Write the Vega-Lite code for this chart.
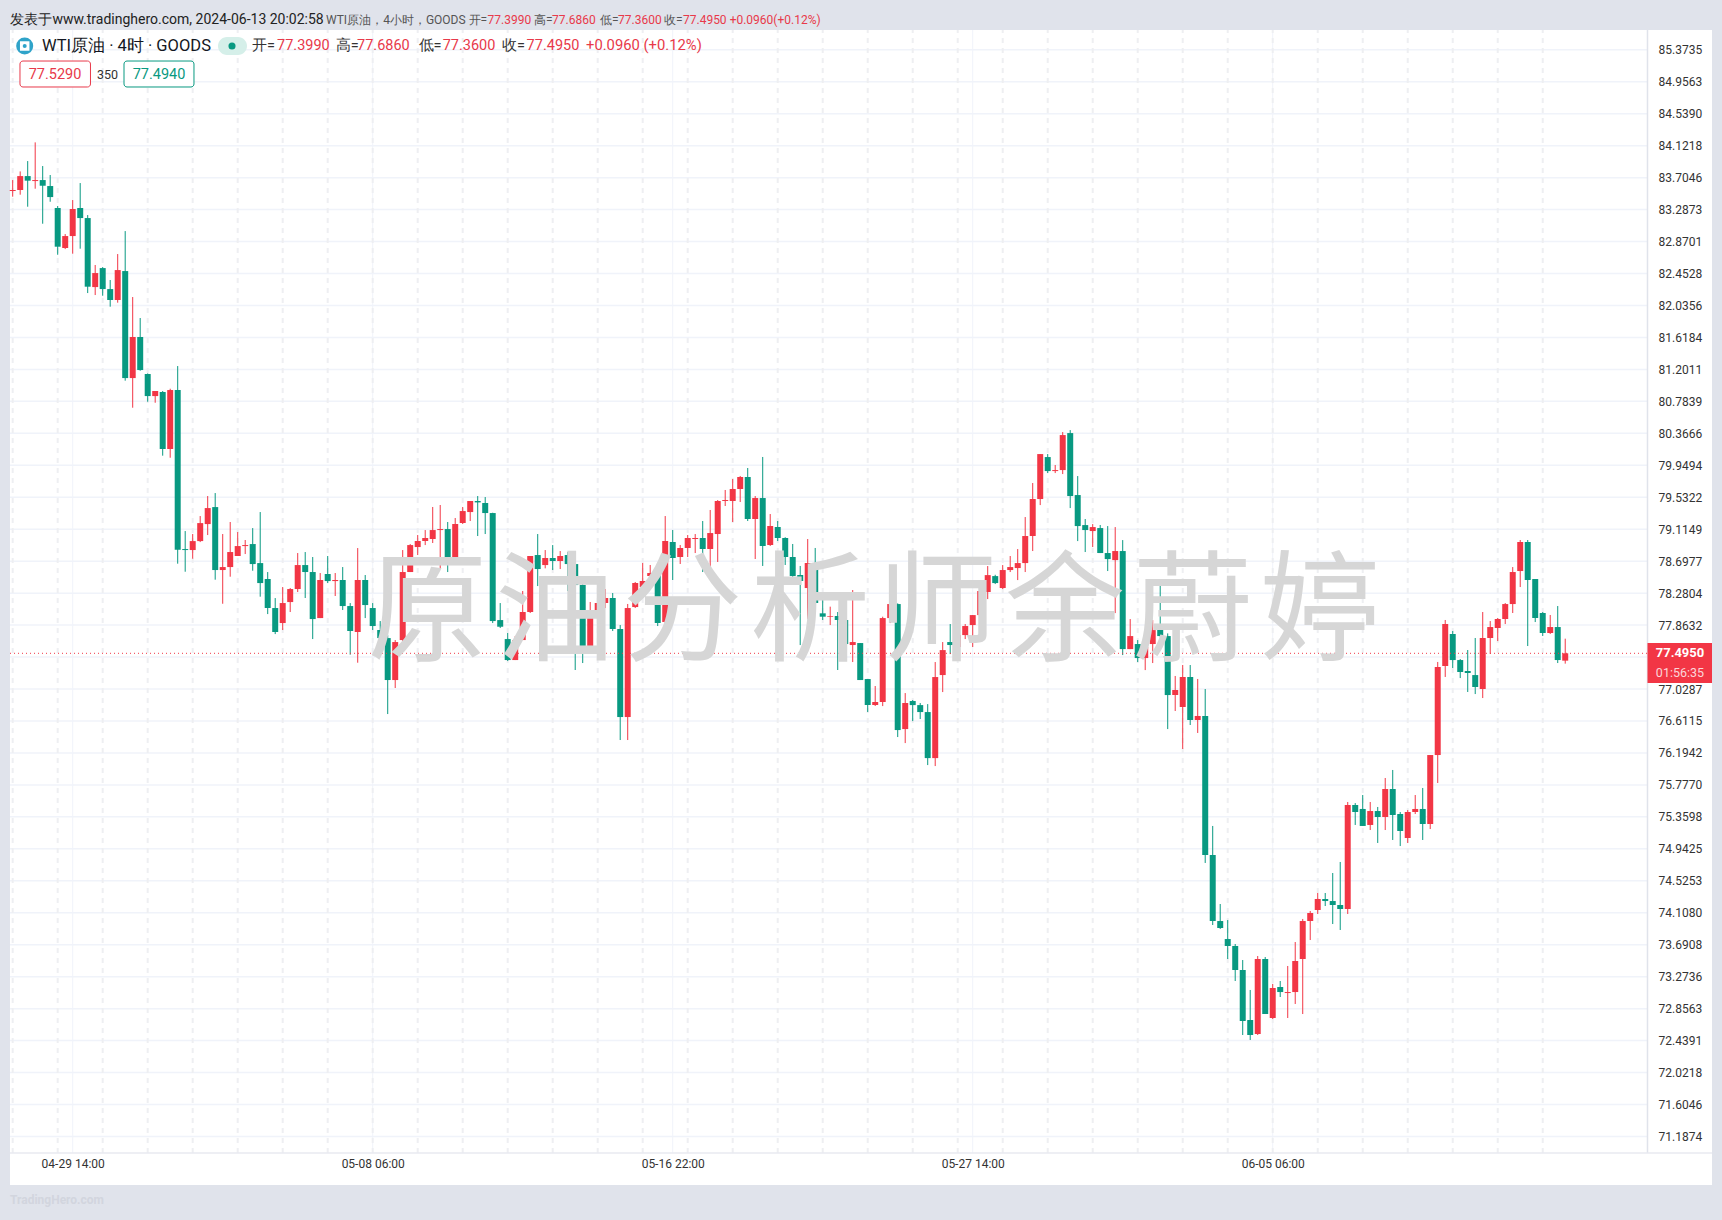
{"$schema":"https://vega.github.io/schema/vega-lite/v6.json","autosize":{"type":"none"},"padding":{"left":10,"top":30,"right":10,"bottom":35},"width":1702,"height":1155,"background":"#e0e3eb","view":{"fill":"#ffffff","stroke":null},"config":{"font":"Roboto"},
"data":{"values":[{"note":"annotation"}]},
"datasets":{"candles":[
{"i":0,"open":83.530,"high":83.673,"low":83.456,"close":83.543},{"i":1,"open":83.543,"high":83.786,"low":83.482,"close":83.725},{"i":2,"open":83.725,"high":83.921,"low":83.325,"close":83.665},{"i":3,"open":83.660,"high":84.165,"low":83.560,"close":83.673},{"i":4,"open":83.673,"high":83.856,"low":83.103,"close":83.599},{"i":5,"open":83.595,"high":83.739,"low":83.390,"close":83.451},{"i":6,"open":83.308,"high":83.334,"low":82.698,"close":82.803},{"i":7,"open":82.786,"high":82.968,"low":82.772,"close":82.942},{"i":8,"open":82.942,"high":83.412,"low":82.712,"close":83.295},{"i":9,"open":83.308,"high":83.634,"low":82.777,"close":83.177},
{"i":10,"open":83.177,"high":83.216,"low":82.198,"close":82.281},{"i":11,"open":82.276,"high":82.564,"low":82.172,"close":82.459},{"i":12,"open":82.524,"high":82.537,"low":82.163,"close":82.250},{"i":13,"open":82.250,"high":82.368,"low":82.020,"close":82.107},{"i":14,"open":82.107,"high":82.707,"low":82.072,"close":82.498},{"i":15,"open":82.485,"high":83.007,"low":81.054,"close":81.088},{"i":16,"open":81.088,"high":82.146,"low":80.701,"close":81.624},{"i":17,"open":81.624,"high":81.872,"low":81.184,"close":81.193},{"i":18,"open":81.141,"high":81.149,"low":80.779,"close":80.853},{"i":19,"open":80.853,"high":80.919,"low":80.766,"close":80.919},
{"i":20,"open":80.906,"high":80.919,"low":80.075,"close":80.162},{"i":21,"open":80.162,"high":80.949,"low":80.048,"close":80.932},{"i":22,"open":80.932,"high":81.245,"low":78.665,"close":78.847},{"i":23,"open":78.856,"high":79.091,"low":78.560,"close":78.843},{"i":24,"open":78.843,"high":79.052,"low":78.730,"close":78.960},{"i":25,"open":78.960,"high":79.287,"low":78.947,"close":79.195},{"i":26,"open":79.182,"high":79.548,"low":79.039,"close":79.391},{"i":27,"open":79.404,"high":79.587,"low":78.456,"close":78.582},{"i":28,"open":78.582,"high":79.052,"low":78.142,"close":78.621},{"i":29,"open":78.621,"high":79.209,"low":78.495,"close":78.817},
{"i":30,"open":78.765,"high":79.078,"low":78.765,"close":78.895},{"i":31,"open":78.895,"high":78.974,"low":78.791,"close":78.908},{"i":32,"open":78.921,"high":79.130,"low":78.573,"close":78.660},{"i":33,"open":78.673,"high":79.339,"low":78.234,"close":78.412},{"i":34,"open":78.464,"high":78.556,"low":78.007,"close":78.086},{"i":35,"open":78.086,"high":78.216,"low":77.746,"close":77.773},{"i":36,"open":77.890,"high":78.360,"low":77.799,"close":78.151},{"i":37,"open":78.164,"high":78.347,"low":78.034,"close":78.334},{"i":38,"open":78.334,"high":78.804,"low":78.295,"close":78.647},{"i":39,"open":78.647,"high":78.817,"low":78.217,"close":78.556},
{"i":40,"open":78.556,"high":78.752,"low":77.681,"close":77.942},{"i":41,"open":77.955,"high":78.543,"low":77.955,"close":78.452},{"i":42,"open":78.530,"high":78.765,"low":78.412,"close":78.438},{"i":43,"open":78.438,"high":78.543,"low":78.243,"close":78.452},{"i":44,"open":78.452,"high":78.621,"low":78.060,"close":78.112},{"i":45,"open":78.112,"high":78.151,"low":77.477,"close":77.786},{"i":46,"open":77.773,"high":78.869,"low":77.372,"close":78.452},{"i":47,"open":78.452,"high":78.517,"low":77.955,"close":78.125},{"i":48,"open":78.086,"high":78.151,"low":77.799,"close":77.851},{"i":49,"open":77.799,"high":77.916,"low":77.668,"close":77.694},
{"i":50,"open":77.694,"high":77.733,"low":76.702,"close":77.146},{"i":51,"open":77.146,"high":77.668,"low":77.042,"close":77.642},{"i":52,"open":77.668,"high":78.843,"low":77.603,"close":78.556},{"i":53,"open":78.556,"high":78.921,"low":78.556,"close":78.908},{"i":54,"open":78.882,"high":79.039,"low":78.778,"close":78.961},{"i":55,"open":78.961,"high":79.104,"low":78.908,"close":79.000},{"i":56,"open":78.987,"high":79.405,"low":78.935,"close":79.104},{"i":57,"open":79.104,"high":79.431,"low":78.595,"close":79.117},{"i":58,"open":79.117,"high":79.209,"low":78.556,"close":78.673},{"i":59,"open":78.687,"high":79.261,"low":78.673,"close":79.183},
{"i":60,"open":79.196,"high":79.405,"low":79.183,"close":79.352},{"i":61,"open":79.339,"high":79.483,"low":79.222,"close":79.483},{"i":62,"open":79.483,"high":79.548,"low":79.026,"close":79.465},{"i":63,"open":79.457,"high":79.535,"low":79.052,"close":79.326},{"i":64,"open":79.326,"high":79.330,"low":77.890,"close":77.916},{"i":65,"open":77.929,"high":78.151,"low":77.825,"close":77.842},{"i":66,"open":77.681,"high":77.760,"low":77.394,"close":77.407},{"i":67,"open":77.407,"high":77.720,"low":77.407,"close":77.668},{"i":68,"open":77.668,"high":78.308,"low":77.668,"close":78.034},{"i":69,"open":78.034,"high":78.765,"low":78.021,"close":78.765},
{"i":70,"open":78.778,"high":79.052,"low":78.373,"close":78.595},{"i":71,"open":78.647,"high":78.843,"low":78.604,"close":78.739},{"i":72,"open":78.739,"high":78.908,"low":78.582,"close":78.700},{"i":73,"open":78.700,"high":78.830,"low":78.595,"close":78.765},{"i":74,"open":78.778,"high":78.817,"low":78.308,"close":78.660},{"i":75,"open":78.660,"high":78.800,"low":77.277,"close":78.386},{"i":76,"open":78.387,"high":78.426,"low":77.368,"close":77.525},{"i":77,"open":77.525,"high":78.165,"low":77.525,"close":78.047},{"i":78,"open":78.034,"high":78.178,"low":77.877,"close":78.152},{"i":79,"open":78.152,"high":78.334,"low":78.086,"close":78.217},
{"i":80,"open":78.217,"high":78.282,"low":77.786,"close":77.812},{"i":81,"open":77.812,"high":77.864,"low":76.363,"close":76.663},{"i":82,"open":76.663,"high":78.139,"low":76.363,"close":78.086},{"i":83,"open":78.099,"high":78.426,"low":78.086,"close":78.413},{"i":84,"open":78.360,"high":78.674,"low":78.360,"close":78.439},{"i":85,"open":78.504,"high":78.648,"low":78.439,"close":78.543},{"i":86,"open":78.556,"high":78.661,"low":77.851,"close":77.891},{"i":87,"open":77.904,"high":79.287,"low":77.747,"close":78.961},{"i":88,"open":78.948,"high":79.105,"low":78.452,"close":78.739},{"i":89,"open":78.752,"high":78.909,"low":78.661,"close":78.870},
{"i":90,"open":78.870,"high":79.039,"low":78.752,"close":79.000},{"i":91,"open":78.987,"high":79.052,"low":78.804,"close":79.000},{"i":92,"open":79.000,"high":79.222,"low":78.556,"close":78.857},{"i":93,"open":78.857,"high":79.366,"low":78.569,"close":79.065},{"i":94,"open":79.052,"high":79.496,"low":78.687,"close":79.483},{"i":95,"open":79.483,"high":79.627,"low":79.418,"close":79.496},{"i":96,"open":79.483,"high":79.770,"low":79.209,"close":79.640},{"i":97,"open":79.640,"high":79.810,"low":79.470,"close":79.797},{"i":98,"open":79.797,"high":79.914,"low":79.222,"close":79.248},{"i":99,"open":79.248,"high":79.548,"low":78.726,"close":79.522},
{"i":100,"open":79.522,"high":80.058,"low":78.635,"close":78.896},{"i":101,"open":78.909,"high":79.313,"low":78.896,"close":79.157},{"i":102,"open":79.144,"high":79.222,"low":78.961,"close":79.000},{"i":103,"open":79.000,"high":79.010,"low":78.648,"close":78.752},{"i":104,"open":78.752,"high":78.922,"low":78.413,"close":78.504},{"i":105,"open":78.517,"high":78.635,"low":77.603,"close":78.439},{"i":106,"open":78.347,"high":78.987,"low":77.943,"close":78.674},{"i":107,"open":78.674,"high":78.870,"low":78.112,"close":78.152},{"i":108,"open":78.017,"high":78.282,"low":77.930,"close":77.973},{"i":109,"open":77.973,"high":78.104,"low":77.864,"close":77.982},
{"i":110,"open":77.982,"high":78.034,"low":77.277,"close":77.930},{"i":111,"open":77.930,"high":78.230,"low":77.394,"close":77.616},{"i":112,"open":77.603,"high":78.321,"low":77.381,"close":77.642},{"i":113,"open":77.629,"high":77.629,"low":77.146,"close":77.146},{"i":114,"open":77.159,"high":77.159,"low":76.729,"close":76.820},{"i":115,"open":76.820,"high":77.068,"low":76.807,"close":76.859},{"i":116,"open":76.859,"high":77.973,"low":76.806,"close":77.955},{"i":117,"open":77.955,"high":78.543,"low":77.890,"close":78.138},{"i":118,"open":78.138,"high":78.147,"low":76.402,"close":76.493},{"i":119,"open":76.506,"high":76.976,"low":76.323,"close":76.846},
{"i":120,"open":76.872,"high":76.885,"low":76.610,"close":76.819},{"i":121,"open":76.819,"high":76.846,"low":76.637,"close":76.728},{"i":122,"open":76.728,"high":76.832,"low":76.036,"close":76.127},{"i":123,"open":76.127,"high":77.381,"low":76.023,"close":77.185},{"i":124,"open":77.211,"high":77.642,"low":76.989,"close":77.537},{"i":125,"open":77.642,"high":77.877,"low":77.485,"close":77.603},{"i":126,"open":77.577,"high":77.733,"low":77.577,"close":77.733},{"i":127,"open":77.733,"high":77.877,"low":77.681,"close":77.851},{"i":128,"open":77.864,"high":77.994,"low":77.577,"close":77.994},{"i":129,"open":77.994,"high":78.386,"low":77.955,"close":78.308},
{"i":130,"open":78.295,"high":78.634,"low":78.203,"close":78.516},{"i":131,"open":78.503,"high":78.520,"low":78.399,"close":78.412},{"i":132,"open":78.347,"high":78.647,"low":78.334,"close":78.582},{"i":133,"open":78.582,"high":78.765,"low":78.556,"close":78.621},{"i":134,"open":78.608,"high":78.856,"low":78.451,"close":78.673},{"i":135,"open":78.673,"high":79.274,"low":78.556,"close":79.026},{"i":136,"open":79.026,"high":79.718,"low":78.830,"close":79.509},{"i":137,"open":79.509,"high":80.096,"low":79.430,"close":80.096},{"i":138,"open":80.057,"high":80.096,"low":79.848,"close":79.874},{"i":139,"open":79.874,"high":79.953,"low":79.848,"close":79.887},
{"i":140,"open":79.887,"high":80.383,"low":79.835,"close":80.344},{"i":141,"open":80.370,"high":80.409,"low":79.391,"close":79.548},{"i":142,"open":79.561,"high":79.809,"low":78.960,"close":79.156},{"i":143,"open":79.169,"high":79.248,"low":78.817,"close":79.104},{"i":144,"open":79.091,"high":79.182,"low":78.882,"close":79.143},{"i":145,"open":79.130,"high":79.170,"low":78.804,"close":78.804},{"i":146,"open":78.804,"high":79.156,"low":78.569,"close":78.725},{"i":147,"open":78.712,"high":79.143,"low":78.020,"close":78.830},{"i":148,"open":78.830,"high":78.973,"low":77.472,"close":77.550},{"i":149,"open":77.550,"high":77.942,"low":77.550,"close":77.720},
{"i":150,"open":77.616,"high":77.668,"low":77.381,"close":77.433},{"i":151,"open":77.433,"high":77.603,"low":77.276,"close":77.577},{"i":152,"open":77.616,"high":77.929,"low":77.368,"close":77.798},{"i":153,"open":77.812,"high":78.438,"low":77.711,"close":77.720},{"i":154,"open":77.720,"high":77.755,"low":76.506,"close":76.950},{"i":155,"open":76.951,"high":77.199,"low":76.742,"close":77.016},{"i":156,"open":76.794,"high":77.342,"low":76.246,"close":77.186},{"i":157,"open":77.186,"high":77.342,"low":76.559,"close":76.624},{"i":158,"open":76.624,"high":77.160,"low":76.455,"close":76.677},{"i":159,"open":76.677,"high":77.029,"low":74.758,"close":74.862},
{"i":160,"open":74.862,"high":75.241,"low":73.948,"close":74.000},{"i":161,"open":74.000,"high":74.222,"low":73.896,"close":73.909},{"i":162,"open":73.765,"high":74.013,"low":73.504,"close":73.674},{"i":163,"open":73.674,"high":73.700,"low":73.217,"close":73.361},{"i":164,"open":73.361,"high":73.491,"low":72.512,"close":72.695},{"i":165,"open":72.708,"high":73.100,"low":72.447,"close":72.512},{"i":166,"open":72.525,"high":73.543,"low":72.512,"close":73.504},{"i":167,"open":73.504,"high":73.530,"low":72.786,"close":72.786},{"i":168,"open":72.734,"high":73.178,"low":72.721,"close":73.126},{"i":169,"open":73.139,"high":73.217,"low":73.008,"close":73.073},
{"i":170,"open":73.060,"high":73.413,"low":72.734,"close":73.073},{"i":171,"open":73.073,"high":73.726,"low":72.917,"close":73.478},{"i":172,"open":73.504,"high":74.027,"low":72.786,"close":74.000},{"i":173,"open":74.000,"high":74.131,"low":73.752,"close":74.105},{"i":174,"open":74.144,"high":74.366,"low":74.092,"close":74.288},{"i":175,"open":74.288,"high":74.366,"low":74.196,"close":74.261},{"i":176,"open":74.261,"high":74.627,"low":73.961,"close":74.209},{"i":177,"open":74.209,"high":74.771,"low":73.883,"close":74.157},{"i":178,"open":74.157,"high":75.554,"low":74.092,"close":75.515},{"i":179,"open":75.515,"high":75.540,"low":75.254,"close":75.423},
{"i":180,"open":75.463,"high":75.645,"low":75.241,"close":75.241},{"i":181,"open":75.254,"high":75.554,"low":75.188,"close":75.436},{"i":182,"open":75.436,"high":75.489,"low":75.019,"close":75.358},{"i":183,"open":75.358,"high":75.867,"low":75.188,"close":75.724},{"i":184,"open":75.724,"high":75.972,"low":75.058,"close":75.384},{"i":185,"open":75.397,"high":75.423,"low":74.979,"close":75.175},{"i":186,"open":75.084,"high":75.449,"low":75.019,"close":75.423},{"i":187,"open":75.423,"high":75.645,"low":75.397,"close":75.463},{"i":188,"open":75.463,"high":75.737,"low":75.058,"close":75.267},{"i":189,"open":75.267,"high":76.167,"low":75.201,"close":76.167},
{"i":190,"open":76.167,"high":77.382,"low":75.802,"close":77.316},{"i":191,"open":77.329,"high":77.930,"low":77.186,"close":77.878},{"i":192,"open":77.747,"high":77.786,"low":77.303,"close":77.407},{"i":193,"open":77.407,"high":77.420,"low":77.172,"close":77.251},{"i":194,"open":77.264,"high":77.538,"low":76.990,"close":77.238},{"i":195,"open":77.211,"high":77.695,"low":76.963,"close":77.055},{"i":196,"open":77.029,"high":78.034,"low":76.911,"close":77.695},{"i":197,"open":77.695,"high":77.916,"low":77.486,"close":77.838},{"i":198,"open":77.825,"high":77.956,"low":77.655,"close":77.943},{"i":199,"open":77.943,"high":78.151,"low":77.877,"close":78.138},
{"i":200,"open":78.138,"high":78.621,"low":78.021,"close":78.556},{"i":201,"open":78.569,"high":78.974,"low":78.360,"close":78.948},{"i":202,"open":78.948,"high":78.974,"low":77.590,"close":78.452},{"i":203,"open":78.465,"high":78.465,"low":77.903,"close":77.956},{"i":204,"open":78.021,"high":78.034,"low":77.721,"close":77.760},{"i":205,"open":77.760,"high":77.995,"low":77.747,"close":77.838},{"i":206,"open":77.838,"high":78.112,"low":77.368,"close":77.407},{"i":207,"open":77.399,"high":77.686,"low":77.360,"close":77.495}],
"priceGrid":[{"price":85.3735},{"price":84.9563},{"price":84.539},{"price":84.1218},{"price":83.7046},{"price":83.2873},{"price":82.8701},{"price":82.4528},{"price":82.0356},{"price":81.6184},{"price":81.2011},{"price":80.7839},{"price":80.3666},{"price":79.9494},{"price":79.5322},{"price":79.1149},{"price":78.6977},{"price":78.2804},{"price":77.8632},{"price":77.446},{"price":77.0287},{"price":76.6115},{"price":76.1942},{"price":75.777},{"price":75.3598},{"price":74.9425},{"price":74.5253},{"price":74.108},{"price":73.6908},{"price":73.2736},{"price":72.8563},{"price":72.4391},{"price":72.0218},{"price":71.6046},{"price":71.1874}],
"dashGrid":[{"i":0},{"i":6},{"i":12},{"i":18},{"i":24},{"i":30},{"i":36},{"i":42},{"i":48},{"i":54},{"i":60},{"i":66},{"i":72},{"i":78},{"i":84},{"i":90},{"i":96},{"i":102},{"i":108},{"i":114},{"i":120},{"i":126},{"i":132},{"i":138},{"i":144},{"i":150},{"i":156},{"i":162},{"i":168},{"i":174},{"i":180},{"i":186},{"i":192},{"i":198},{"i":204}],
"timeGrid":[{"i":8},{"i":48},{"i":88},{"i":128},{"i":168}]},
"layer":[
{"data":{"name":"priceGrid"},"mark":{"type":"rule","color":"#f0f3fa","strokeWidth":1.5},"encoding":{
"y":{"field":"price","type":"quantitative","scale":{"domain":[70.554,85.632],"nice":false,"zero":false},"axis":{"orient":"right","offset":-64.5,"title":null,"grid":false,"ticks":false,"domain":false,"labelPadding":10.5,"labelFont":"Roboto","labelFontSize":12,"labelColor":"#333333","labelOverlap":false,"labelBound":false,"labelFlush":false,"format":".4f","tickCount":40,"values":[85.3735,84.9563,84.539,84.1218,83.7046,83.2873,82.8701,82.4528,82.0356,81.6184,81.2011,80.7839,80.3666,79.9494,79.5322,79.1149,78.6977,78.2804,77.8632,77.0287,76.6115,76.1942,75.777,75.3598,74.9425,74.5253,74.108,73.6908,73.2736,72.8563,72.4391,72.0218,71.6046,71.1874]}},
"x":{"datum":-0.36,"type":"quantitative","scale":{"domain":[-0.36,226.57],"nice":false,"zero":false,"padding":0},"axis":{"orient":"bottom","offset":-32,"title":null,"grid":false,"ticks":false,"domain":false,"labelPadding":5,"labelFont":"Roboto","labelFontSize":12,"labelColor":"#333333","labelOverlap":false,"labelBound":false,"labelFlush":false,"values":[8,48,88,128,168],"labelExpr":"['04-29 14:00','05-08 06:00','05-16 22:00','05-27 14:00','06-05 06:00'][(datum.value-8)/40]"}},
"x2":{"datum":217.97}}},
{"data":{"name":"timeGrid"},"mark":{"type":"rule","color":"#f0f3fa","strokeWidth":1},"encoding":{"x":{"field":"i","type":"quantitative"},"y":{"datum":70.971,"type":"quantitative"},"y2":{"datum":85.632}}},
{"data":{"name":"dashGrid"},"mark":{"type":"rule","color":"#eeeff2","strokeWidth":2,"strokeDash":[5,5]},"encoding":{"x":{"field":"i","type":"quantitative"},"y":{"datum":70.971,"type":"quantitative"},"y2":{"datum":85.632}}},
{"mark":{"type":"rule","color":"#e0e3eb","strokeWidth":1.5},"encoding":{"x":{"datum":217.97,"type":"quantitative"},"y":{"datum":70.971,"type":"quantitative"},"y2":{"datum":85.632}}},
{"mark":{"type":"rule","color":"#e8eaf0","strokeWidth":1.5},"encoding":{"y":{"datum":70.971,"type":"quantitative"},"x":{"datum":-0.36,"type":"quantitative"},"x2":{"datum":226.57}}},
{"data":{"name":"candles"},"mark":{"type":"rule","strokeWidth":1},"encoding":{"x":{"field":"i","type":"quantitative"},"y":{"field":"low","type":"quantitative"},"y2":{"field":"high"},"color":{"condition":{"test":"datum.close>datum.open","value":"#f23645"},"value":"#089981"}}},
{"data":{"name":"candles"},"mark":{"type":"bar","width":6},"encoding":{"x":{"field":"i","type":"quantitative"},"y":{"field":"open","type":"quantitative"},"y2":{"field":"close"},"color":{"condition":{"test":"datum.close>datum.open","value":"#f23645"},"value":"#089981"}}},
{"mark":{"type":"rule","color":"#f23645","strokeWidth":1,"strokeDash":[1,3]},"encoding":{"y":{"datum":77.495,"type":"quantitative"},"x":{"datum":-0.36,"type":"quantitative"},"x2":{"datum":217.97}}},
{"mark":{"type":"text","text":"原\u200a油\u200a分\u200a析\u200a师\u200a余\u200a蔚\u200a婷","font":"Noto Sans CJK SC","fontSize":120,"color":"#d6d6d6","align":"center","baseline":"middle"},"encoding":{"x":{"datum":114.8,"type":"quantitative"},"y":{"datum":77.982,"type":"quantitative"}}},
{"mark":{"type":"rect","color":"#f23645"},"encoding":{"x":{"datum":217.97,"type":"quantitative"},"x2":{"datum":226.57},"y":{"datum":77.107,"type":"quantitative"},"y2":{"datum":77.629}}},
{"mark":{"type":"text","text":"77.4950","font":"Roboto","fontSize":13,"fontWeight":"bold","color":"#ffffff"},"encoding":{"x":{"datum":222.3,"type":"quantitative"},"y":{"datum":77.495,"type":"quantitative"}}},
{"mark":{"type":"text","text":"01:56:35","font":"Roboto","fontSize":12.5,"color":"#fbd5d9"},"encoding":{"x":{"datum":222.3,"type":"quantitative"},"y":{"datum":77.2375,"type":"quantitative"}}},
{"mark":{"type":"text","text":"TradingHero.com","font":"Roboto","fontSize":12,"fontWeight":"bold","color":"#d2d5de","align":"left"},"encoding":{"x":{"datum":-0.36,"type":"quantitative"},"y":{"datum":70.358,"type":"quantitative"}}},
{"mark":{"type":"text","text":"发表于www.tradinghero.com, 2024-06-13 20:02:58","font":"Roboto","fontSize":14,"color":"#222222","align":"left"},"encoding":{"x":{"datum":-0.31,"type":"quantitative"},"y":{"datum":85.762,"type":"quantitative"}}},
{"mark":{"type":"text","text":"WTI原油，4小时，GOODS 开=","font":"Roboto","fontSize":12,"color":"#555555","align":"left"},"encoding":{"x":{"datum":41.77,"type":"quantitative"},"y":{"datum":85.762,"type":"quantitative"}}},
{"mark":{"type":"text","text":"77.3990","font":"Roboto","fontSize":12,"color":"#e8394a","align":"left"},"encoding":{"x":{"datum":63.32,"type":"quantitative"},"y":{"datum":85.762,"type":"quantitative"}}},
{"mark":{"type":"text","text":"高=","font":"Roboto","fontSize":12,"color":"#555555","align":"left"},"encoding":{"x":{"datum":69.5,"type":"quantitative"},"y":{"datum":85.762,"type":"quantitative"}}},
{"mark":{"type":"text","text":"77.6860","font":"Roboto","fontSize":12,"color":"#e8394a","align":"left"},"encoding":{"x":{"datum":71.91,"type":"quantitative"},"y":{"datum":85.762,"type":"quantitative"}}},
{"mark":{"type":"text","text":"低=","font":"Roboto","fontSize":12,"color":"#555555","align":"left"},"encoding":{"x":{"datum":78.31,"type":"quantitative"},"y":{"datum":85.762,"type":"quantitative"}}},
{"mark":{"type":"text","text":"77.3600","font":"Roboto","fontSize":12,"color":"#e8394a","align":"left"},"encoding":{"x":{"datum":80.71,"type":"quantitative"},"y":{"datum":85.762,"type":"quantitative"}}},
{"mark":{"type":"text","text":"收=","font":"Roboto","fontSize":12,"color":"#555555","align":"left"},"encoding":{"x":{"datum":86.84,"type":"quantitative"},"y":{"datum":85.762,"type":"quantitative"}}},
{"mark":{"type":"text","text":"77.4950","font":"Roboto","fontSize":12,"color":"#e8394a","align":"left"},"encoding":{"x":{"datum":89.37,"type":"quantitative"},"y":{"datum":85.762,"type":"quantitative"}}},
{"mark":{"type":"text","text":"+0.0960(+0.12%)","font":"Roboto","fontSize":12,"color":"#e8394a","align":"left"},"encoding":{"x":{"datum":95.59,"type":"quantitative"},"y":{"datum":85.762,"type":"quantitative"}}},
{"mark":{"type":"point","shape":"circle","filled":true,"size":290,"color":"#2fa3c9","opacity":1},"encoding":{"x":{"datum":1.6,"type":"quantitative"},"y":{"datum":85.423,"type":"quantitative"}}},
{"mark":{"type":"point","shape":"square","filled":true,"size":90,"color":"#ffffff","opacity":1},"encoding":{"x":{"datum":1.6,"type":"quantitative"},"y":{"datum":85.423,"type":"quantitative"}}},
{"mark":{"type":"point","shape":"circle","filled":true,"size":16,"color":"#2fa3c9","opacity":1},"encoding":{"x":{"datum":1.6,"type":"quantitative"},"y":{"datum":85.423,"type":"quantitative"}}},
{"mark":{"type":"text","text":"WTI原油 · 4时 · GOODS","font":"Roboto","fontSize":16.5,"color":"#131722","align":"left"},"encoding":{"x":{"datum":3.91,"type":"quantitative"},"y":{"datum":85.423,"type":"quantitative"}}},
{"mark":{"type":"rect","color":"#d5efe9","cornerRadius":9},"encoding":{"x":{"datum":27.37,"type":"quantitative"},"x2":{"datum":31.24},"y":{"datum":85.305,"type":"quantitative"},"y2":{"datum":85.54}}},
{"mark":{"type":"point","shape":"circle","filled":true,"size":50,"color":"#089981","opacity":1},"encoding":{"x":{"datum":29.24,"type":"quantitative"},"y":{"datum":85.423,"type":"quantitative"}}},
{"mark":{"type":"text","text":"开=","font":"Roboto","fontSize":14.5,"color":"#333333","align":"left"},"encoding":{"x":{"datum":31.91,"type":"quantitative"},"y":{"datum":85.423,"type":"quantitative"}}},
{"mark":{"type":"text","text":"77.3990","font":"Roboto","fontSize":14.5,"color":"#e8394a","align":"left"},"encoding":{"x":{"datum":35.24,"type":"quantitative"},"y":{"datum":85.423,"type":"quantitative"}}},
{"mark":{"type":"text","text":"高=","font":"Roboto","fontSize":14.5,"color":"#333333","align":"left"},"encoding":{"x":{"datum":43.07,"type":"quantitative"},"y":{"datum":85.423,"type":"quantitative"}}},
{"mark":{"type":"text","text":"77.6860","font":"Roboto","fontSize":14.5,"color":"#e8394a","align":"left"},"encoding":{"x":{"datum":45.91,"type":"quantitative"},"y":{"datum":85.423,"type":"quantitative"}}},
{"mark":{"type":"text","text":"低=","font":"Roboto","fontSize":14.5,"color":"#333333","align":"left"},"encoding":{"x":{"datum":54.11,"type":"quantitative"},"y":{"datum":85.423,"type":"quantitative"}}},
{"mark":{"type":"text","text":"77.3600","font":"Roboto","fontSize":14.5,"color":"#e8394a","align":"left"},"encoding":{"x":{"datum":57.33,"type":"quantitative"},"y":{"datum":85.423,"type":"quantitative"}}},
{"mark":{"type":"text","text":"收=","font":"Roboto","fontSize":14.5,"color":"#333333","align":"left"},"encoding":{"x":{"datum":65.24,"type":"quantitative"},"y":{"datum":85.423,"type":"quantitative"}}},
{"mark":{"type":"text","text":"77.4950","font":"Roboto","fontSize":14.5,"color":"#e8394a","align":"left"},"encoding":{"x":{"datum":68.52,"type":"quantitative"},"y":{"datum":85.423,"type":"quantitative"}}},
{"mark":{"type":"text","text":"+0.0960 (+0.12%)","font":"Roboto","fontSize":14.8,"color":"#e8394a","align":"left"},"encoding":{"x":{"datum":76.44,"type":"quantitative"},"y":{"datum":85.423,"type":"quantitative"}}},
{"mark":{"type":"rect","fill":"#ffffff","stroke":"#e8394a","strokeWidth":1,"cornerRadius":3},"encoding":{"x":{"datum":0.97,"type":"quantitative"},"x2":{"datum":10.37},"y":{"datum":84.888,"type":"quantitative"},"y2":{"datum":85.227}}},
{"mark":{"type":"text","text":"77.5290","font":"Roboto","fontSize":14.5,"color":"#e8394a"},"encoding":{"x":{"datum":5.64,"type":"quantitative"},"y":{"datum":85.044,"type":"quantitative"}}},
{"mark":{"type":"text","text":"350","font":"Roboto","fontSize":12.5,"color":"#333333"},"encoding":{"x":{"datum":12.64,"type":"quantitative"},"y":{"datum":85.044,"type":"quantitative"}}},
{"mark":{"type":"rect","fill":"#ffffff","stroke":"#089981","strokeWidth":1,"cornerRadius":3},"encoding":{"x":{"datum":14.84,"type":"quantitative"},"x2":{"datum":24.17},"y":{"datum":84.888,"type":"quantitative"},"y2":{"datum":85.227}}},
{"mark":{"type":"text","text":"77.4940","font":"Roboto","fontSize":14.5,"color":"#089981"},"encoding":{"x":{"datum":19.51,"type":"quantitative"},"y":{"datum":85.044,"type":"quantitative"}}}
]}
